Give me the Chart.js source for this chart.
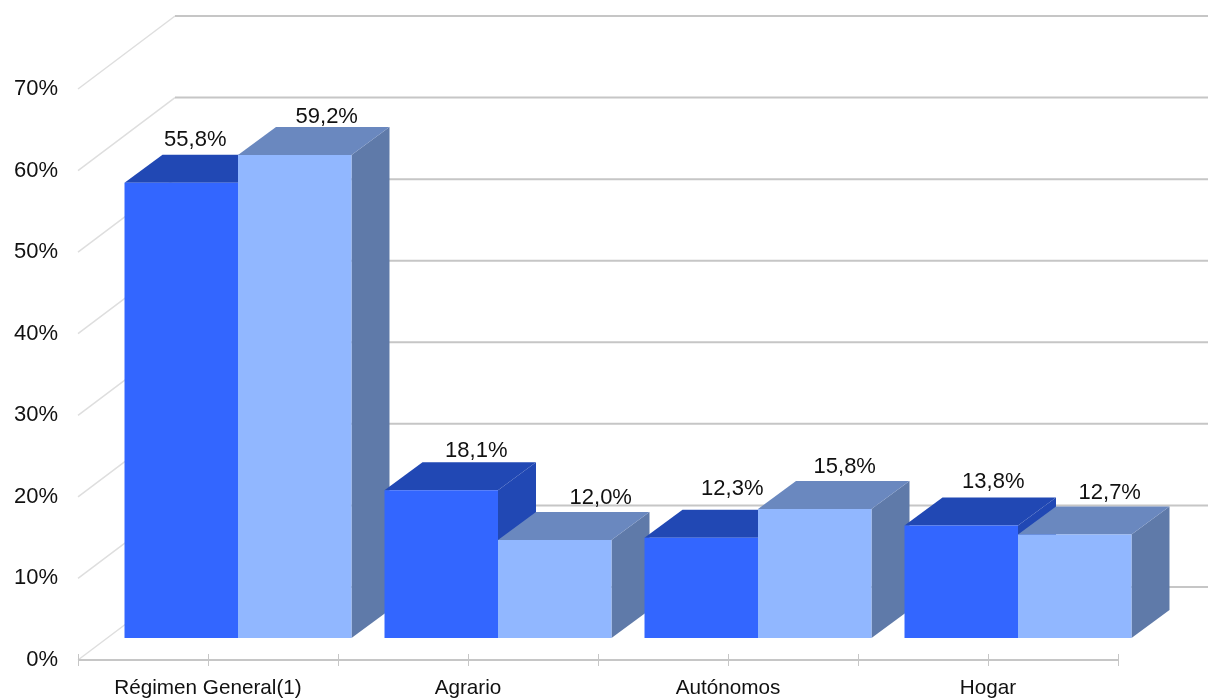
<!DOCTYPE html>
<html>
<head>
<meta charset="utf-8">
<style>
  html, body { margin: 0; padding: 0; background: #fff; }
  #wrap { width: 1208px; height: 699px; }
</style>
<script src="https://cdn.jsdelivr.net/npm/chart.js@4"></script>
</head>
<body>
<div id="wrap"><canvas id="chart"></canvas></div>
<script>
const categories = ['Régimen General(1)', 'Agrario', 'Autónomos', 'Hogar'];
const seriesA = [55.8, 18.1, 12.3, 13.8];
const seriesB = [59.2, 12.0, 15.8, 12.7];
const yTickLabels = ['0%', '10%', '20%', '30%', '40%', '50%', '60%', '70%'];

// box depth of the bars and offset of the walls from the bar plane
const depthX = 38, depthY = 28;
const frontX = -30, frontY = 22;
const backX = 67, backY = -51;

// hand nudges for the value labels [dx, dy] from the top centre of each bar
const nudgeA = [[14, -43], [35, -39], [31, -49], [32, -43]];
const nudgeB = [[32, -38], [46, -42], [30, -42], [35, -41]];

const faces = [
  { top: '#2148b4', side: '#2148b4' },
  { top: '#6a88bf', side: '#5f7aa9' }
];

function poly(ctx, pts, color) {
  ctx.fillStyle = color;
  ctx.beginPath();
  pts.forEach((p, i) => i ? ctx.lineTo(p[0], p[1]) : ctx.moveTo(p[0], p[1]));
  ctx.closePath();
  ctx.fill();
}

const box3d = {
  id: 'box3d',
  beforeDatasetsDraw(chart) {
    const ctx = chart.ctx, y = chart.scales.y, x = chart.scales.x;
    const left = chart.chartArea.left + frontX;
    ctx.save();

    // walls
    yTickLabels.forEach((t, i) => {
      const py = y.getPixelForValue(i * 10);
      ctx.strokeStyle = '#dedede';
      ctx.lineWidth = 1.5;
      ctx.beginPath();
      ctx.moveTo(left, py + frontY);
      ctx.lineTo(left + backX + 30, py + backY);
      ctx.stroke();
      ctx.strokeStyle = '#c6c6c6';
      ctx.lineWidth = 2;
      ctx.beginPath();
      ctx.moveTo(left + backX + 30, py + backY);
      ctx.lineTo(chart.width, py + backY);
      ctx.stroke();
    });

    // floor line with ticks between and under the categories
    const floorY = y.getPixelForValue(0) + frontY;
    const step = x.getPixelForTick(1) - x.getPixelForTick(0);
    ctx.strokeStyle = '#c6c6c6';
    ctx.lineWidth = 2;
    ctx.beginPath();
    ctx.moveTo(left, floorY);
    ctx.lineTo(left + step * categories.length, floorY);
    ctx.stroke();
    ctx.lineWidth = 1;
    for (let i = 0; i <= categories.length * 2; i++) {
      const tx = Math.round(left + i * step / 2) + 0.5;
      ctx.beginPath();
      ctx.moveTo(tx, floorY - 6);
      ctx.lineTo(tx, floorY + 6);
      ctx.stroke();
    }

    // top and side of each box, left to right
    categories.forEach((c, j) => {
      [0, 1].forEach(d => {
        const b = chart.getDatasetMeta(d).data[j];
        const l = b.x - b.width / 2, r = b.x + b.width / 2;
        poly(ctx, [[r, b.y], [r + depthX, b.y - depthY], [r + depthX, b.base - depthY], [r, b.base]], faces[d].side);
        poly(ctx, [[l, b.y], [l + depthX, b.y - depthY], [r + depthX, b.y - depthY], [r, b.y]], faces[d].top);
      });
    });
    ctx.restore();
  },
  afterDatasetsDraw(chart) {
    const ctx = chart.ctx;
    ctx.save();
    ctx.font = '22px "Liberation Sans"';
    ctx.fillStyle = '#111';
    ctx.textAlign = 'center';
    ctx.textBaseline = 'middle';
    [[seriesA, nudgeA], [seriesB, nudgeB]].forEach((s, d) => {
      s[0].forEach((v, j) => {
        const b = chart.getDatasetMeta(d).data[j];
        ctx.fillText(v.toFixed(1).replace('.', ',') + '%', b.x + s[1][j][0], b.y + s[1][j][1]);
      });
    });
    ctx.restore();
  }
};

new Chart(document.getElementById('chart'), {
  type: 'bar',
  data: {
    labels: categories,
    datasets: [
      { data: seriesA, backgroundColor: '#3366ff' },
      { data: seriesB, backgroundColor: '#91b7ff' }
    ]
  },
  options: {
    responsive: true,
    maintainAspectRatio: false,
    animation: false,
    layout: { padding: { top: 67, right: 60 } },
    plugins: { legend: { display: false }, tooltip: { enabled: false } },
    datasets: { bar: { categoryPercentage: 0.873, barPercentage: 1 } },
    scales: {
      x: {
        grid: { display: false, drawTicks: false },
        border: { display: false },
        afterFit(s) { s.height = 61; },
        ticks: {
          autoSkip: false, maxRotation: 0, labelOffset: frontX, padding: 38,
          color: '#111', font: { family: '"Liberation Sans"', size: 20.7 }
        }
      },
      y: {
        min: 0, max: 70,
        grid: { display: false, drawTicks: false },
        border: { display: false },
        afterFit(s) { s.width = 108; s.paddingTop = 0; s.paddingBottom = 0; },
        ticks: {
          stepSize: 10, labelOffset: frontY, padding: 50,
          color: '#111', font: { family: '"Liberation Sans"', size: 22 },
          callback: (v, i) => yTickLabels[v / 10]
        }
      }
    }
  },
  plugins: [box3d]
});
</script>
</body>
</html>
